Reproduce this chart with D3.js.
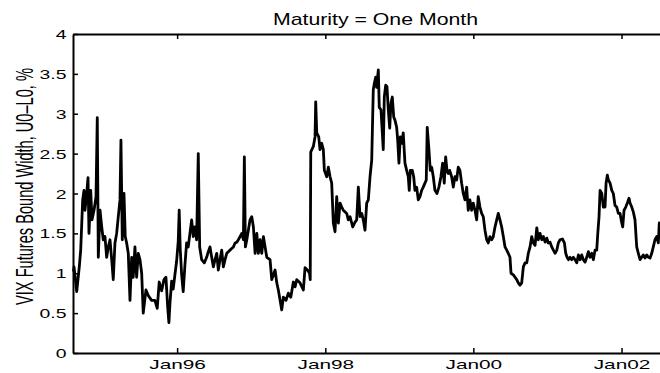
<!DOCTYPE html>
<html>
<head>
<meta charset="utf-8">
<script src="https://cdn.jsdelivr.net/npm/d3@7/dist/d3.min.js"></script>
<style>
  html, body { margin: 0; padding: 0; background: #fff; }
  svg { display: block; overflow: hidden; }
  text { font-family: "Liberation Sans", Arial, Helvetica, sans-serif; fill: #000; }
</style>
</head>
<body>
<svg id="chart" width="660" height="373"></svg>
<script>
// ---- Data (decimal-year dates and bound width in %) ----
const years = [
1994.600,1994.607,1994.643,1994.678,1994.697,1994.724,1994.742,1994.755,1994.778,1994.796,
1994.809,1994.832,1994.850,1994.877,1994.904,1994.921,1994.935,1994.958,1994.981,1995.002,
1995.025,1995.048,1995.070,1995.093,1995.116,1995.137,1995.160,1995.183,1995.205,1995.228,
1995.241,1995.259,1995.282,1995.299,1995.318,1995.340,1995.363,1995.386,1995.407,1995.430,
1995.453,1995.475,1995.498,1995.521,1995.542,1995.579,1995.610,1995.656,1995.700,1995.731,
1995.758,1995.791,1995.822,1995.849,1995.872,1995.889,1995.903,1995.926,1995.947,1995.970,
1995.993,1996.015,1996.028,1996.042,1996.061,1996.082,1996.105,1996.128,1996.150,1996.173,
1996.196,1996.218,1996.240,1996.263,1996.285,1996.304,1996.331,1996.366,1996.398,1996.420,
1996.443,1996.466,1996.488,1996.511,1996.534,1996.555,1996.578,1996.601,1996.623,1996.646,
1996.669,1996.690,1996.713,1996.736,1996.758,1996.781,1996.804,1996.825,1996.848,1996.871,
1996.893,1996.906,1996.920,1996.939,1996.983,1997.006,1997.028,1997.051,1997.074,1997.095,
1997.118,1997.141,1997.163,1997.209,1997.253,1997.276,1997.321,1997.344,1997.365,1997.411,
1997.433,1997.469,1997.500,1997.533,1997.568,1997.591,1997.614,1997.658,1997.703,1997.726,
1997.757,1997.787,1997.796,1997.803,1997.838,1997.861,1997.870,1997.884,1997.911,1997.928,
1997.951,1997.973,1997.987,1998.019,1998.041,1998.064,1998.086,1998.108,1998.131,1998.154,
1998.176,1998.199,1998.222,1998.243,1998.289,1998.311,1998.334,1998.370,1998.401,1998.424,
1998.446,1998.469,1998.492,1998.513,1998.536,1998.559,1998.581,1998.604,1998.627,1998.648,
1998.662,1998.681,1998.694,1998.716,1998.729,1998.752,1998.770,1998.783,1998.797,1998.816,
1998.833,1998.851,1998.870,1998.887,1998.905,1998.924,1998.941,1998.964,1998.978,1998.995,
1999.013,1999.032,1999.053,1999.076,1999.099,1999.121,1999.134,1999.148,1999.175,1999.194,
1999.211,1999.234,1999.256,1999.279,1999.302,1999.323,1999.346,1999.364,1999.377,1999.400,
1999.418,1999.437,1999.459,1999.481,1999.508,1999.535,1999.562,1999.585,1999.607,1999.626,
1999.644,1999.661,1999.680,1999.707,1999.729,1999.752,1999.775,1999.796,1999.819,1999.842,
1999.864,1999.887,1999.910,1999.931,1999.954,1999.977,1999.999,2000.022,2000.045,2000.066,
2000.089,2000.112,2000.134,2000.157,2000.180,2000.201,2000.224,2000.247,2000.269,2000.292,
2000.315,2000.336,2000.359,2000.382,2000.404,2000.427,2000.450,2000.471,2000.494,2000.508,
2000.539,2000.562,2000.585,2000.606,2000.629,2000.652,2000.674,2000.697,2000.720,2000.741,
2000.764,2000.787,2000.809,2000.832,2000.855,2000.876,2000.899,2000.922,2000.944,2000.967,
2000.990,2001.011,2001.034,2001.057,2001.079,2001.102,2001.125,2001.146,2001.169,2001.201,
2001.228,2001.246,2001.264,2001.282,2001.304,2001.327,2001.349,2001.372,2001.395,2001.417,
2001.440,2001.462,2001.484,2001.507,2001.530,2001.552,2001.575,2001.598,2001.619,2001.642,
2001.665,2001.679,2001.696,2001.710,2001.733,2001.754,2001.777,2001.791,2001.808,2001.822,
2001.845,2001.868,2001.889,2001.912,2001.935,2001.957,2001.980,2002.003,2002.016,2002.034,
2002.057,2002.078,2002.101,2002.115,2002.138,2002.159,2002.182,2002.205,2002.227,2002.250,
2002.273,2002.294,2002.317,2002.340,2002.362,2002.385,2002.408,2002.429,2002.452,2002.475,
2002.497,2002.510,2002.533
];
const widths = [
1.02,1.08,0.77,1.08,1.29,1.92,2.04,1.79,2.00,2.20,
1.50,2.04,1.67,1.79,1.96,2.95,1.20,1.79,1.58,1.42,
1.46,1.20,1.33,1.42,1.17,0.92,1.38,1.50,1.71,1.92,
2.67,1.42,2.00,1.46,1.38,1.25,0.66,1.20,0.95,1.33,
0.95,1.25,1.17,1.00,0.50,0.79,0.72,0.66,0.66,0.56,
0.89,0.78,0.92,0.95,0.58,0.38,0.62,0.90,0.80,0.98,
1.15,1.40,1.79,1.30,0.98,0.77,1.10,1.38,1.33,1.50,
1.67,1.46,1.58,1.42,2.50,1.33,1.17,1.13,1.20,1.27,
1.33,1.20,1.08,1.17,1.25,1.04,1.17,1.29,1.08,1.17,
1.25,1.27,1.29,1.31,1.33,1.38,1.39,1.42,1.46,1.50,
1.42,2.46,1.33,1.42,1.67,1.71,1.58,1.25,1.50,1.25,
1.42,1.25,1.46,1.20,1.17,0.92,1.04,0.88,0.79,0.54,
0.70,0.66,0.75,0.70,0.89,0.83,0.92,0.88,0.79,1.07,
1.04,1.00,0.92,2.52,2.59,2.71,3.15,2.76,2.71,2.55,
2.63,2.55,2.29,2.21,2.33,2.21,2.13,1.63,1.52,1.96,
1.63,1.88,1.83,1.79,1.75,1.67,1.71,1.58,1.64,1.67,
2.08,1.71,1.75,1.67,1.54,1.88,1.92,2.21,2.42,3.30,
3.38,3.46,3.33,3.55,3.08,3.05,2.76,2.55,3.21,3.36,
3.34,3.05,2.82,3.13,3.21,2.96,2.92,2.83,2.67,2.38,
2.71,2.63,2.76,2.38,2.29,2.21,2.04,2.29,2.29,2.21,
2.04,2.08,1.92,1.96,2.04,2.08,2.13,2.17,2.83,2.55,
2.29,2.33,2.21,2.04,2.00,2.08,2.21,2.38,2.13,2.46,
2.29,2.25,2.29,2.21,2.08,2.21,2.17,2.33,2.29,2.13,
2.00,1.92,2.08,1.79,1.92,1.79,1.88,1.79,1.67,1.96,
1.83,1.75,1.71,1.54,1.42,1.38,1.46,1.42,1.46,1.58,
1.67,1.75,1.67,1.58,1.46,1.33,1.29,1.25,1.20,1.00,
0.98,0.95,0.92,0.88,0.85,0.88,1.08,1.13,1.13,1.25,
1.33,1.46,1.38,1.35,1.57,1.42,1.50,1.42,1.46,1.39,
1.44,1.38,1.39,1.33,1.29,1.25,1.29,1.38,1.42,1.43,
1.38,1.25,1.20,1.17,1.20,1.17,1.20,1.17,1.13,1.23,
1.17,1.23,1.17,1.14,1.20,1.27,1.20,1.25,1.17,1.29,
1.29,1.50,1.71,2.04,2.00,1.83,1.83,2.13,2.23,2.17,
2.13,2.04,2.00,1.85,1.83,1.75,1.75,1.63,1.58,1.79,
1.83,1.88,1.94,1.88,1.83,1.77,1.67,1.33,1.25,1.17,
1.20,1.23,1.19,1.23,1.20,1.19,1.25,1.33,1.42,1.46,
1.38,1.63,1.55
];
const xTickDates = ["1996-01-01", "1998-01-01", "2000-01-01", "2002-01-01"];
const xTickLabels = ["Jan96", "Jan98", "Jan00", "Jan02"];
const yTickValues = [0, 0.5, 1, 1.5, 2, 2.5, 3, 3.5, 4];
const yTickLabels = ["0", "0.5", "1", "1.5", "2", "2.5", "3", "3.5", "4"];
const xDomainYears = [1994.593, 2002.763];
const titleText = "Maturity = One Month";
const yLabelText = "VIX Futures Bound Width, U0\u2013L0, %";

// ---- helpers ----
function decToDate(yv) {
  const yr = Math.floor(yv);
  const s = Date.UTC(yr, 0, 1), e = Date.UTC(yr + 1, 0, 1);
  return new Date(s + (yv - yr) * (e - s));
}

const mLeft = 73, mRight = 678, mTop = 34, mBottom = 353;
const svg = d3.select("#chart");

const x = d3.scaleUtc().domain(xDomainYears.map(decToDate)).range([mLeft, mRight]);
const y = d3.scaleLinear().domain([0, 4]).range([mBottom, mTop]);

const data = years.map((yr, i) => ({ date: decToDate(yr), v: widths[i] }));
const tickDates = xTickDates.map(s => new Date(s + "T00:00:00Z"));

const SX = 1.6;

// data line
const line = d3.line().x(d => x(d.date)).y(d => y(d.v));
svg.append("path")
  .datum(data)
  .attr("d", line)
  .attr("fill", "none")
  .attr("stroke", "#000")
  .attr("stroke-width", 2.8)
  .attr("stroke-linejoin", "round");

// bottom axis
const gB = svg.append("g").attr("transform", `translate(0,${mBottom})`)
  .call(d3.axisBottom(x).tickValues(tickDates).tickSize(-5).tickSizeOuter(0)
    .tickFormat((d, i) => xTickLabels[i]));
gB.selectAll("text").attr("y", 0).attr("dy", null)
  .attr("transform", `translate(0,16) scale(${SX},1)`)
  .style("font-size", "13px");

// top axis
svg.append("g").attr("transform", `translate(0,${mTop})`)
  .call(d3.axisTop(x).tickValues(tickDates).tickSize(-5).tickSizeOuter(0).tickFormat(""));

// left axis
const gL = svg.append("g").attr("transform", `translate(${mLeft},0)`)
  .call(d3.axisLeft(y).tickValues(yTickValues).tickSize(-5).tickSizeOuter(0)
    .tickFormat((d, i) => yTickLabels[i]));
gL.selectAll("text").attr("x", 0).attr("dy", null)
  .attr("transform", `translate(-6.5,4.5) scale(1.55,1)`)
  .style("font-size", "12.5px");

// right axis
svg.append("g").attr("transform", `translate(${mRight},0)`)
  .call(d3.axisRight(y).tickValues(yTickValues).tickSize(-5).tickSizeOuter(0).tickFormat(""));

svg.selectAll(".domain").attr("stroke", "#000").attr("stroke-width", 2);
svg.selectAll(".tick line").attr("stroke", "#000").attr("stroke-width", 1.5);
svg.selectAll(".tick text").attr("fill", "#000").style("font-family", '"Liberation Sans", Arial, sans-serif');

// title
svg.append("text")
  .attr("text-anchor", "middle")
  .attr("transform", `translate(${(mLeft + mRight) / 2},25) scale(1.33,1)`)
  .style("font-size", "16px")
  .text(titleText);

// y label
svg.append("text")
  .attr("text-anchor", "middle")
  .attr("transform", `translate(33,${(mTop + mBottom) / 2 - 7}) rotate(-90) scale(1,${SX})`)
  .style("font-size", "14.6px")
  .text(yLabelText);
</script>
</body>
</html>
